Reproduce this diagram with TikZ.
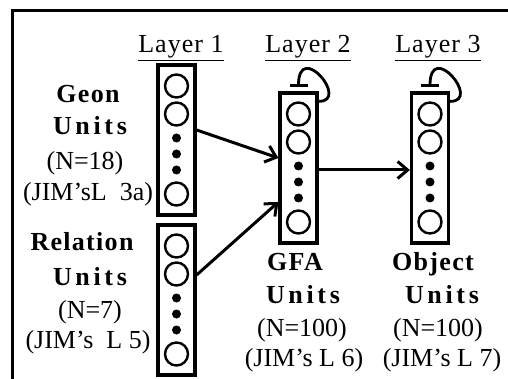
\documentclass[tikz,border=0pt]{standalone}
\usepackage{fontspec}
\setmainfont{Liberation Serif}
\newfontfamily\spacedbf[LetterSpace=5]{Liberation Serif}
\newfontfamily\widebf[LetterSpace=14]{Liberation Serif}
\newfontfamily\spacedrm[LetterSpace=4]{Liberation Serif}
\usetikzlibrary{arrows.meta}
\tikzset{
  unitbox/.style={draw,line width=3.2pt,minimum width=37pt,minimum height=150pt,inner sep=0pt},
  unit/.style={draw,circle,line width=2.4pt,minimum size=23pt,inner sep=0pt},
  dotunit/.style={fill,circle,minimum size=9pt,inner sep=0pt},
  lbl/.style={anchor=base,inner sep=0pt,font=\fontsize{26}{28}\selectfont},
  hd/.style={anchor=base,inner sep=0pt,font=\fontsize{26}{28}\selectfont\spacedbf\bfseries},
  hdwide/.style={hd,font=\fontsize{26}{28}\selectfont\widebf\bfseries},
  link/.style={line width=3pt,-{Straight Barb[length=10pt,width=17pt,line width=3pt]}},
  selfloop/.style={line width=2.8pt,-{Bar[width=18pt,line width=3pt]}}
}
\begin{document}
\begin{tikzpicture}[x=1pt,y=-1pt]
\useasboundingbox (0,0) rectangle (508,379);
% frame, cut off at the right and bottom
\draw[line width=3pt] (508,11) -| (12,379);
% unit pools
\node[unitbox] (geon) at (176.5,140) {};
\node[unitbox] (rel) at (176.5,300) {};
\node[unitbox] (gfa) at (298.5,168) {};
\node[unitbox] (obj) at (430,168) {};
\foreach \b in {geon,rel,gfa,obj}{
  \node[unit] (\b-1) at ([yshift=54pt]\b.center) {};
  \node[unit] (\b-2) at ([yshift=26pt]\b.center) {};
  \node[dotunit] (\b-3) at ([yshift=2pt]\b.center) {};
  \node[dotunit] (\b-4) at ([yshift=-14pt]\b.center) {};
  \node[dotunit] (\b-5) at ([yshift=-30pt]\b.center) {};
  \node[unit] (\b-6) at ([yshift=-54pt]\b.center) {};
}
% layer titles
\node[lbl] (lay1) at (181,53) {\spacedrm\underline{Layer 1}};
\node[lbl] (lay2) at (308,53) {\spacedrm\underline{Layer 2}};
\node[lbl] (lay3) at (438,53) {\spacedrm\underline{Layer 3}};
% connections
\draw[link] ([yshift=10pt]geon.east) -- ([yshift=10pt]gfa.west);
\draw[link] ([yshift=25pt]rel.east) -- ([yshift=-34pt]gfa.west);
\draw[link] ([yshift=-2pt]gfa.east) -- ([yshift=-2pt]obj.west);
\draw[selfloop] ([yshift=-10pt]gfa.north east) .. controls +(32,0) and +(0,-48) .. ([yshift=4pt]gfa.north);
\draw[selfloop] ([yshift=-10pt]obj.north east) .. controls +(32,0) and +(0,-48) .. ([yshift=4pt]obj.north);
% captions
\node[hd] (geonname) at (88,103) {Geon};
\node[hdwide] (geonunits) at (90,135) {Units};
\node[lbl] (geonn) at (85,170) {(N=18)};
\node[lbl] (geonjim) at (88,201) {(JIM'sL\ \ 3a)};
\node[hd] (relname) at (82,251) {Relation};
\node[hdwide] (relunits) at (90,285) {Units};
\node[lbl] (reln) at (90,318) {(N=7)};
\node[lbl] (reljim) at (88,348) {(JIM's\ \ L 5)};
\node[hd] (gfaname) at (295,270) {GFA};
\node[hdwide] (gfaunits) at (303,303) {Units};
\node[lbl] (gfan) at (302,336) {(N=100)};
\node[lbl] (gfajim) at (304,366) {(JIM's L 6)};
\node[hd] (objname) at (433,270) {Object};
\node[hdwide] (objunits) at (442,303) {Units};
\node[lbl] (objn) at (438,336) {(N=100)};
\node[lbl] (objjim) at (442,366) {(JIM's L 7)};
\end{tikzpicture}
\end{document}
